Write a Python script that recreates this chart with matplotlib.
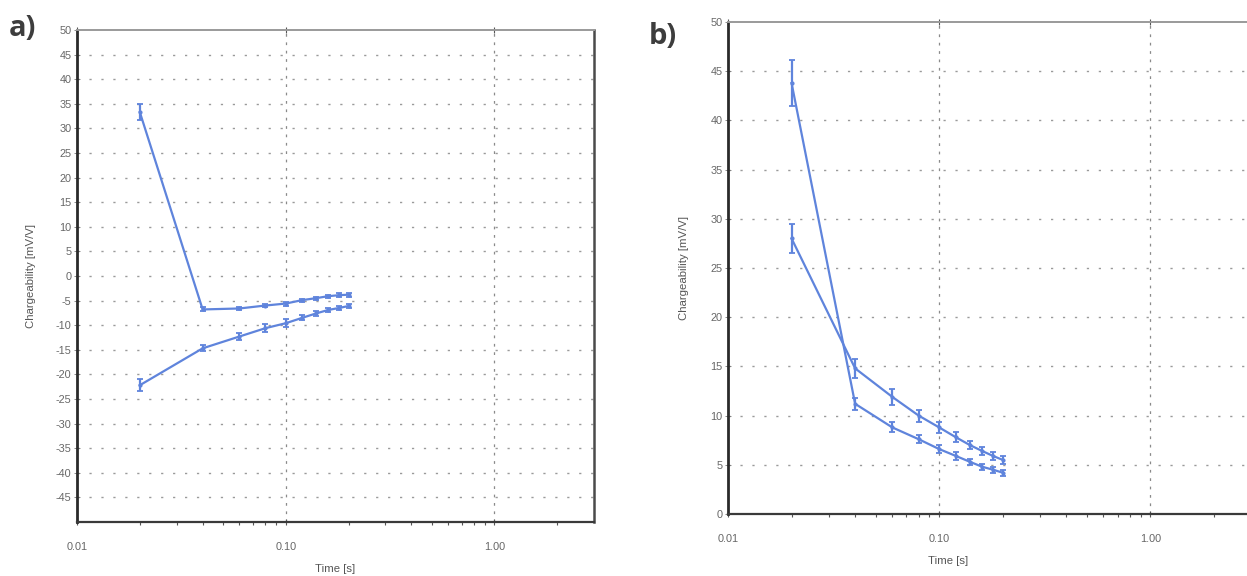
import matplotlib
matplotlib.use("Agg")
import matplotlib.pyplot as plt
from matplotlib.ticker import FixedLocator, NullFormatter, FixedFormatter

# Decay time gates [s]
time_s = [0.02, 0.04, 0.06, 0.08, 0.10, 0.12, 0.14, 0.16, 0.18, 0.20]

# Panel a) chargeability curves [mV/V] with error bars
a_upper = [33.3, -6.8, -6.6, -6.0, -5.6, -4.9, -4.5, -4.1, -3.9, -3.8]
a_upper_err = [1.6, 0.4, 0.3, 0.3, 0.4, 0.3, 0.3, 0.3, 0.4, 0.4]
a_lower = [-22.2, -14.7, -12.3, -10.6, -9.6, -8.5, -7.6, -6.9, -6.5, -6.1]
a_lower_err = [1.2, 0.6, 0.8, 0.8, 0.8, 0.5, 0.5, 0.4, 0.4, 0.4]

# Panel b) chargeability curves [mV/V] with error bars
b_first = [43.8, 11.2, 8.8, 7.6, 6.6, 5.9, 5.3, 4.8, 4.5, 4.2]
b_first_err = [2.3, 0.6, 0.5, 0.4, 0.4, 0.4, 0.3, 0.3, 0.3, 0.3]
b_second = [28.0, 14.8, 11.9, 10.0, 8.8, 7.8, 7.0, 6.4, 5.9, 5.5]
b_second_err = [1.5, 1.0, 0.8, 0.6, 0.6, 0.5, 0.4, 0.4, 0.4, 0.4]

x_ticks = [0.01, 0.1, 1.0]
x_tick_labels = ["0.01", "0.10", "1.00"]
a_yticks = list(range(-45, 55, 5))
b_yticks = list(range(0, 55, 5))

LINE = "#5f84dc"
TXT = "#666666"
FONT = ["Liberation Sans", "DejaVu Sans"]
plt.rcParams["font.family"] = FONT
plt.rcParams["axes.unicode_minus"] = False

fig = plt.figure(figsize=(12.47, 5.76), dpi=100)
ax_a = fig.add_axes([77 / 1247, (576 - 522) / 576, 517 / 1247, 492 / 576])
ax_b = fig.add_axes([728 / 1247, (576 - 514) / 576, 523 / 1247, 492 / 576])


def style_axes(ax, ylim, yticks, ylabel_x):
    ax.set_xscale("log")
    ax.set_xlim(0.01, 3.0)
    ax.set_ylim(*ylim)
    ax.xaxis.set_major_locator(FixedLocator(x_ticks))
    ax.xaxis.set_major_formatter(FixedFormatter(x_tick_labels))
    minor = [m * d for d in (0.01, 0.1, 1.0) for m in range(2, 10) if m * d < 3.0]
    ax.xaxis.set_minor_locator(FixedLocator(minor))
    ax.xaxis.set_minor_formatter(NullFormatter())
    ax.set_yticks(yticks)
    ax.tick_params(axis="x", which="major", direction="inout", length=5,
                   width=0.8, color="#555555", pad=12, labelsize=7.8,
                   labelcolor=TXT, top=True)
    ax.tick_params(axis="x", which="minor", direction="out", length=2.5,
                   width=0.8, color="#555555")
    ax.tick_params(axis="y", direction="inout", length=4, width=0.6,
                   color="#777777", pad=2, labelsize=7.8, labelcolor=TXT)
    ax.grid(False)
    for y in yticks:
        if ylim[0] < y < ylim[1]:
            ax.axhline(y, color="#9a9a9a", lw=1.0, ls=(0, (1.6, 7.0)), zorder=0)
    for x in (0.1, 1.0):
        ax.axvline(x, color="#8a8a8a", lw=0.9, ls=(0, (2.2, 4.5)), zorder=0)
    ax.spines["left"].set_color("#2a2a2a")
    ax.spines["left"].set_linewidth(2.0)
    ax.spines["bottom"].set_color("#3a3a3a")
    ax.spines["bottom"].set_linewidth(1.6)
    ax.spines["top"].set_color("#9a9a9a")
    ax.spines["top"].set_linewidth(1.4)
    ax.spines["right"].set_color("#4a4a4a")
    ax.spines["right"].set_linewidth(1.8)
    ax.set_ylabel("Chargeability [mV/V]", fontsize=8.2, color="#555555")
    ax.yaxis.set_label_coords(ylabel_x, 0.5)
    ax.set_xlabel("Time [s]", fontsize=8.2, color="#555555")


def draw_curve(ax, y, err):
    ax.errorbar(time_s, y, yerr=err, color=LINE, lw=1.6, elinewidth=1.6,
                capsize=2.0, capthick=1.3, marker="o", ms=2.0, zorder=3)


style_axes(ax_a, (-50, 50), a_yticks, -0.08)
draw_curve(ax_a, a_upper, a_upper_err)
draw_curve(ax_a, a_lower, a_lower_err)
ax_a.xaxis.set_label_coords(0.5, -0.085)

style_axes(ax_b, (0, 50), b_yticks, -0.075)
draw_curve(ax_b, b_first, b_first_err)
draw_curve(ax_b, b_second, b_second_err)
ax_b.xaxis.set_label_coords((948 - 728) / 523, -0.085)

fig.text(9 / 1247, 1 - 28 / 576, "a)", fontsize=21, fontweight="bold",
         color="#3d3d3d", va="center", ha="left", family=["Open Sans", "DejaVu Sans"])
fig.text(649 / 1247, 1 - 37 / 576, "b)", fontsize=21, fontweight="bold",
         color="#3d3d3d", va="center", ha="left", family=["Open Sans", "DejaVu Sans"])

fig.savefig("out.png", dpi=100, facecolor="white")
